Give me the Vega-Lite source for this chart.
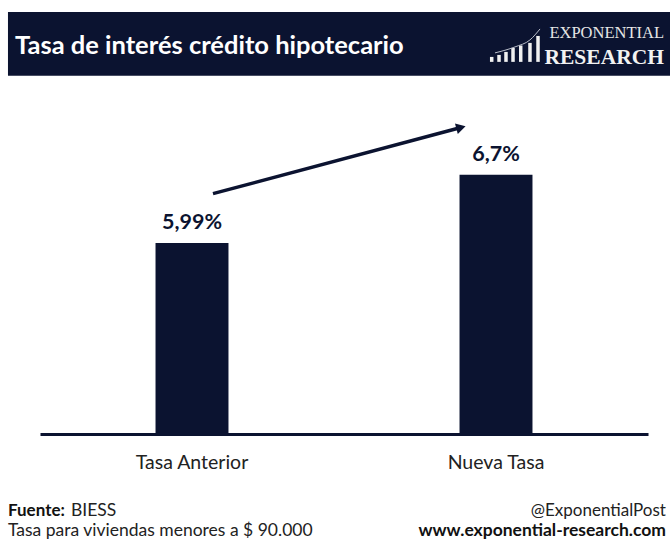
{
  "$schema": "https://vega.github.io/schema/vega-lite/v6.json",
  "width": 670,
  "height": 540,
  "autosize": {"type": "fit", "contains": "padding"},
  "padding": 0,
  "background": "white",
  "config": {"view": {"stroke": null}, "font": "Lato"},
  "resolve": {"scale": {"x": "independent", "y": "independent"}},
  "layer": [
    {
      "data": {"values": [{"x": 0.0119, "x2": 1, "y": 0.0222, "y2": 0.1407}]},
      "mark": {"type": "rect", "color": "#0b1330"},
      "encoding": {
        "x": {"field": "x", "type": "quantitative", "scale": {"domain": [0, 1], "nice": false, "zero": false}, "axis": null},
        "x2": {"field": "x2"},
        "y": {"field": "y", "type": "quantitative", "scale": {"domain": [0, 1], "nice": false, "zero": false, "reverse": true}, "axis": null},
        "y2": {"field": "y2"}
      }
    },
    {
      "data": {"values": [{"x": 0.0224, "y": 0.1009, "t": "Tasa de interés crédito hipotecario"}]},
      "mark": {"type": "text", "font": "Lato", "fontWeight": "bold", "fontSize": 25.5, "color": "white", "align": "left", "baseline": "alphabetic"},
      "encoding": {
        "x": {"field": "x", "type": "quantitative", "scale": {"domain": [0, 1], "nice": false, "zero": false}, "axis": null},
        "y": {"field": "y", "type": "quantitative", "scale": {"domain": [0, 1], "nice": false, "zero": false, "reverse": true}, "axis": null},
        "text": {"field": "t"}
      }
    },
    {
      "data": {"values": [{"x": 0.991, "y": 0.0704, "t": "EXPONENTIAL"}]},
      "mark": {"type": "text", "font": "Liberation Serif", "fontSize": 16.5, "color": "#e6e6e6", "align": "right", "baseline": "alphabetic"},
      "encoding": {
        "x": {"field": "x", "type": "quantitative", "scale": {"domain": [0, 1], "nice": false, "zero": false}, "axis": null},
        "y": {"field": "y", "type": "quantitative", "scale": {"domain": [0, 1], "nice": false, "zero": false, "reverse": true}, "axis": null},
        "text": {"field": "t"}
      }
    },
    {
      "data": {"values": [{"x": 0.991, "y": 0.1185, "t": "RESEARCH"}]},
      "mark": {"type": "text", "font": "Liberation Serif", "fontWeight": "bold", "fontSize": 21.5, "color": "#f2f2f2", "align": "right", "baseline": "alphabetic"},
      "encoding": {
        "x": {"field": "x", "type": "quantitative", "scale": {"domain": [0, 1], "nice": false, "zero": false}, "axis": null},
        "y": {"field": "y", "type": "quantitative", "scale": {"domain": [0, 1], "nice": false, "zero": false, "reverse": true}, "axis": null},
        "text": {"field": "t"}
      }
    },
    {
      "data": {"values": [
        {"x": 0.7339, "y": 0.1056, "y2": 0.1148},
        {"x": 0.7448, "y": 0.1019, "y2": 0.1148},
        {"x": 0.7552, "y": 0.0963, "y2": 0.1148},
        {"x": 0.7657, "y": 0.0889, "y2": 0.1148},
        {"x": 0.7772, "y": 0.0843, "y2": 0.1148},
        {"x": 0.7910, "y": 0.0796, "y2": 0.1148},
        {"x": 0.8030, "y": 0.0667, "y2": 0.1148}
      ]},
      "mark": {"type": "rule", "color": "#f0f0f0", "strokeWidth": 3.5},
      "encoding": {
        "x": {"field": "x", "type": "quantitative", "scale": {"domain": [0, 1], "nice": false, "zero": false}, "axis": null},
        "y": {"field": "y", "type": "quantitative", "scale": {"domain": [0, 1], "nice": false, "zero": false, "reverse": true}, "axis": null},
        "y2": {"field": "y2"}
      }
    },
    {
      "data": {"values": [
        {"o": 1, "x": 0.7388, "y": 0.0981},
        {"o": 2, "x": 0.7687, "y": 0.0870},
        {"o": 3, "x": 0.7910, "y": 0.0741},
        {"o": 4, "x": 0.8060, "y": 0.0537}
      ]},
      "mark": {"type": "line", "color": "#b8bcc8", "strokeWidth": 1, "interpolate": "monotone"},
      "encoding": {
        "x": {"field": "x", "type": "quantitative", "scale": {"domain": [0, 1], "nice": false, "zero": false}, "axis": null},
        "y": {"field": "y", "type": "quantitative", "scale": {"domain": [0, 1], "nice": false, "zero": false, "reverse": true}, "axis": null},
        "order": {"field": "o"}
      }
    },
    {
      "data": {"values": [
        {"categoria": "Tasa Anterior", "tasa": 5.99, "etiqueta": "5,99%"},
        {"categoria": "Nueva Tasa", "tasa": 6.7, "etiqueta": "6,7%"}
      ]},
      "encoding": {
        "x": {
          "field": "categoria", "type": "nominal", "sort": null,
          "scale": {"range": [40, 648], "paddingInner": 0.76, "paddingOuter": 0.38},
          "axis": {"title": null, "labelAngle": 0, "ticks": false, "domainColor": "#0b1330", "domainWidth": 3, "offset": -105, "labelPadding": 19, "labelFont": "Lato", "labelFontSize": 19.5, "labelColor": "#222222", "labelBaseline": "top"}
        },
        "y": {"field": "tasa", "type": "quantitative", "scale": {"domain": [4, 7.5], "range": [434, 98], "nice": false, "zero": false}, "axis": null}
      },
      "layer": [
        {"mark": {"type": "bar", "color": "#0b1330"}, "encoding": {"y2": {"datum": 4}}},
        {"mark": {"type": "text", "font": "Lato", "fontWeight": "bold", "fontSize": 21.5, "color": "#0b1330", "baseline": "bottom", "dy": -9}, "encoding": {"text": {"field": "etiqueta"}}}
      ]
    },
    {
      "data": {"values": [{"x": 0.3179, "y": 0.3593, "x2": 0.6866, "y2": 0.2370}]},
      "mark": {"type": "rule", "color": "#0b1330", "strokeWidth": 3.5},
      "encoding": {
        "x": {"field": "x", "type": "quantitative", "scale": {"domain": [0, 1], "nice": false, "zero": false}, "axis": null},
        "x2": {"field": "x2"},
        "y": {"field": "y", "type": "quantitative", "scale": {"domain": [0, 1], "nice": false, "zero": false, "reverse": true}, "axis": null},
        "y2": {"field": "y2"}
      }
    },
    {
      "data": {"values": [{"x": 0.6880, "y": 0.2366}]},
      "mark": {"type": "point", "shape": "triangle-right", "filled": true, "color": "#0b1330", "size": 120, "angle": 345, "opacity": 1},
      "encoding": {
        "x": {"field": "x", "type": "quantitative", "scale": {"domain": [0, 1], "nice": false, "zero": false}, "axis": null},
        "y": {"field": "y", "type": "quantitative", "scale": {"domain": [0, 1], "nice": false, "zero": false, "reverse": true}, "axis": null}
      }
    },
    {
      "data": {"values": [{"x": 0.0119, "y": 0.9574, "t": "Fuente:"}]},
      "mark": {"type": "text", "font": "Lato", "fontWeight": "bold", "fontSize": 17, "color": "#111111", "align": "left", "baseline": "alphabetic"},
      "encoding": {
        "x": {"field": "x", "type": "quantitative", "scale": {"domain": [0, 1], "nice": false, "zero": false}, "axis": null},
        "y": {"field": "y", "type": "quantitative", "scale": {"domain": [0, 1], "nice": false, "zero": false, "reverse": true}, "axis": null},
        "text": {"field": "t"}
      }
    },
    {
      "data": {"values": [
        {"x": 0.1060, "y": 0.9574, "t": "BIESS"},
        {"x": 0.0119, "y": 0.9944, "t": "Tasa para viviendas menores a $ 90.000"}
      ]},
      "mark": {"type": "text", "font": "Lato", "fontSize": 17.5, "color": "#222222", "align": "left", "baseline": "alphabetic"},
      "encoding": {
        "x": {"field": "x", "type": "quantitative", "scale": {"domain": [0, 1], "nice": false, "zero": false}, "axis": null},
        "y": {"field": "y", "type": "quantitative", "scale": {"domain": [0, 1], "nice": false, "zero": false, "reverse": true}, "axis": null},
        "text": {"field": "t"}
      }
    },
    {
      "data": {"values": [{"x": 0.994, "y": 0.9574, "t": "@ExponentialPost"}]},
      "mark": {"type": "text", "font": "Lato", "fontSize": 17, "color": "#222222", "align": "right", "baseline": "alphabetic"},
      "encoding": {
        "x": {"field": "x", "type": "quantitative", "scale": {"domain": [0, 1], "nice": false, "zero": false}, "axis": null},
        "y": {"field": "y", "type": "quantitative", "scale": {"domain": [0, 1], "nice": false, "zero": false, "reverse": true}, "axis": null},
        "text": {"field": "t"}
      }
    },
    {
      "data": {"values": [{"x": 0.994, "y": 0.9944, "t": "www.exponential-research.com"}]},
      "mark": {"type": "text", "font": "Lato", "fontWeight": "bold", "fontSize": 17.5, "color": "#111111", "align": "right", "baseline": "alphabetic"},
      "encoding": {
        "x": {"field": "x", "type": "quantitative", "scale": {"domain": [0, 1], "nice": false, "zero": false}, "axis": null},
        "y": {"field": "y", "type": "quantitative", "scale": {"domain": [0, 1], "nice": false, "zero": false, "reverse": true}, "axis": null},
        "text": {"field": "t"}
      }
    }
  ]
}
